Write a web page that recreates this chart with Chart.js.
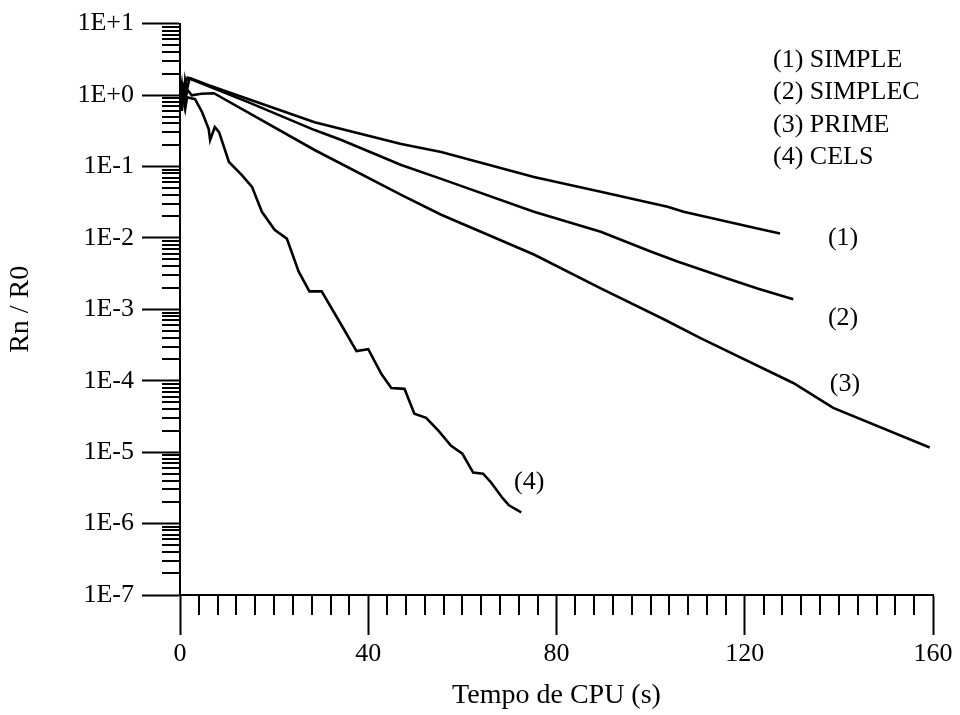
<!DOCTYPE html>
<html>
<head>
<meta charset="utf-8">
<script src="https://cdn.jsdelivr.net/npm/chart.js@4.4.1/dist/chart.umd.min.js"></script>
<style>
  html, body { margin: 0; padding: 0; background: #fff; }
  #wrap { width: 960px; height: 715px; }
</style>
</head>
<body>
<div id="wrap"><canvas id="c" width="960" height="715"></canvas></div>
<script>
// Convergence history: normalised residual vs CPU time
const seriesNames = ['(1) SIMPLE', '(2) SIMPLEC', '(3) PRIME', '(4) CELS'];
const curveTags = ['(1)', '(2)', '(3)', '(4)'];

const simpleX = [0, 0.3, 0.6, 0.9, 1.2, 1.6, 2.2, 6.1, 14, 28.6, 47, 55.5, 75.2, 89.4, 103.6, 107, 122.7, 127.5];
const simpleY = [1.0, 0.7, 1.3, 0.8, 1.5, 1.75, 1.72, 1.37, 0.90, 0.417, 0.206, 0.159, 0.0714, 0.0441, 0.0273, 0.0232, 0.0135, 0.0115];

const simplecX = [0, 0.4, 0.8, 1.1, 1.5, 2.0, 6.1, 14.6, 28.6, 34.3, 47, 55.5, 75.2, 89.4, 100, 105.7, 116.3, 122.7, 130.3];
const simplecY = [0.9, 1.4, 0.75, 1.6, 1.2, 1.7, 1.33, 0.79, 0.323, 0.234, 0.105, 0.067, 0.0232, 0.0122, 0.00643, 0.00467, 0.0027, 0.00196, 0.00138];

const primeX = [0, 0.5, 1.0, 1.5, 2.5, 4.5, 7.2, 28.6, 47, 55.5, 75.2, 89.4, 102.8, 110.6, 130.3, 138.8, 159.3];
const primeY = [0.8, 1.1, 0.7, 1.2, 0.99, 1.04, 1.06, 0.17, 0.0401, 0.0211, 0.00585, 0.00196, 7.26e-4, 3.94e-4, 9.3e-5, 4.17e-5, 1.16e-5];

const celsX = [0, 0.4, 0.8, 1.2, 1.5, 3.2, 4.7, 6.1, 6.4, 7.4, 8.3, 10.4, 13.1, 15.3, 17.4, 20.1, 22.7, 25.2, 27.5, 30.1, 34.7, 37.5, 40.0, 42.8, 44.9, 47.7, 49.8, 52.3, 54.9, 57.6, 60.0, 62.3, 64.4, 66.1, 68.6, 69.9, 72.5];
const celsY = [1.2, 0.6, 1.5, 0.7, 0.93, 0.873, 0.575, 0.333, 0.234, 0.356, 0.303, 0.1156, 0.0762, 0.0518, 0.0232, 0.013, 0.00977, 0.00339, 0.00178, 0.00178, 5.43e-4, 2.6e-4, 2.77e-4, 1.24e-4, 7.9e-5, 7.7e-5, 3.44e-5, 3.03e-5, 2.0e-5, 1.23e-5, 9.5e-6, 5.18e-6, 5.0e-6, 3.76e-6, 2.25e-6, 1.8e-6, 1.44e-6];

// where each curve's tag "(n)" is written, in data units
const tagX = [140.9, 140.9, 141.3, 74.2];
const tagY = [9.8e-3, 7.5e-4, 9.0e-5, 3.76e-6];

const xMajorTicks = [0, 40, 80, 120, 160];
const xMinorStep = 4;
const yMajorTicks = [1e-7, 1e-6, 1e-5, 1e-4, 1e-3, 1e-2, 1e-1, 1e0, 1e1];

const FONT = "'Liberation Serif', 'Times New Roman', serif";
const INK = '#000';

function pairs(xs, ys) { return xs.map((x, i) => ({ x: x, y: ys[i] })); }

function expLabel(v) {
  const e = Math.round(Math.log10(v));
  return '1E' + (e >= 0 ? '+' : '-') + Math.abs(e);
}

const decor = {
  id: 'decor',
  afterDraw(chart) {
    const ctx = chart.ctx;
    const xs = chart.scales.x, ys = chart.scales.y;
    const area = chart.chartArea;
    ctx.save();
    ctx.strokeStyle = INK;
    ctx.lineWidth = 2;
    ctx.beginPath();
    // minor decade ticks on the log axis
    for (let k = -7; k < 1; k++) {
      for (let m = 2; m <= 9; m++) {
        const py = Math.round(ys.getPixelForValue(m * Math.pow(10, k)));
        ctx.moveTo(area.left - 18, py);
        ctx.lineTo(area.left, py);
      }
    }
    // minor time ticks
    for (let v = xMinorStep; v < 160; v += xMinorStep) {
      if (v % 40 === 0) continue;
      const px = Math.round(xs.getPixelForValue(v));
      ctx.moveTo(px, area.bottom);
      ctx.lineTo(px, area.bottom + 20);
    }
    ctx.stroke();

    ctx.fillStyle = INK;
    ctx.font = '26px ' + FONT;
    ctx.textBaseline = 'middle';
    ctx.textAlign = 'center';
    for (let i = 0; i < curveTags.length; i++) {
      ctx.fillText(curveTags[i], xs.getPixelForValue(tagX[i]), ys.getPixelForValue(tagY[i]));
    }
    ctx.textAlign = 'left';
    for (let i = 0; i < seriesNames.length; i++) {
      ctx.fillText(seriesNames[i], 773, 60 + i * 32.5);
    }
    ctx.restore();
  }
};

const lineStyle = { borderColor: INK, borderWidth: 2.6, pointRadius: 0, showLine: true, tension: 0, fill: false };

new Chart(document.getElementById('c'), {
  type: 'scatter',
  data: {
    datasets: [
      Object.assign({ label: seriesNames[0], data: pairs(simpleX, simpleY) }, lineStyle),
      Object.assign({ label: seriesNames[1], data: pairs(simplecX, simplecY) }, lineStyle),
      Object.assign({ label: seriesNames[2], data: pairs(primeX, primeY) }, lineStyle),
      Object.assign({ label: seriesNames[3], data: pairs(celsX, celsY) }, lineStyle)
    ]
  },
  options: {
    responsive: false,
    animation: false,
    layout: { padding: { top: 21, right: 27, left: 0, bottom: 0 } },
    plugins: { legend: { display: false }, tooltip: { enabled: false } },
    scales: {
      x: {
        type: 'linear',
        min: 0, max: 160,
        afterBuildTicks: s => { s.ticks = xMajorTicks.map(v => ({ value: v })); },
        afterFit: s => { s.height = 120; },
        border: { display: true, color: INK, width: 2 },
        grid: { display: true, drawOnChartArea: false, drawTicks: true, tickLength: 40, tickWidth: 2, tickColor: INK },
        ticks: { color: INK, font: { family: FONT, size: 26 }, padding: 4, maxRotation: 0, autoSkip: false },
        title: { display: true, text: 'Tempo de CPU (s)', color: INK, font: { family: FONT, size: 28 }, padding: { top: 0, bottom: 3 } }
      },
      y: {
        type: 'logarithmic',
        min: 1e-7, max: 10,
        afterBuildTicks: s => { s.ticks = yMajorTicks.map(v => ({ value: v })); },
        afterFit: s => { s.width = 180; },
        border: { display: true, color: INK, width: 2 },
        grid: { display: true, drawOnChartArea: false, drawTicks: true, tickLength: 38, tickWidth: 2, tickColor: INK },
        ticks: { color: INK, font: { family: FONT, size: 26 }, padding: 8, autoSkip: false, callback: v => expLabel(v) },
        title: { display: true, text: 'Rn / R0', color: INK, font: { family: FONT, size: 28 }, padding: { top: 4, bottom: 0 } }
      }
    }
  },
  plugins: [decor]
});
</script>
</body>
</html>
